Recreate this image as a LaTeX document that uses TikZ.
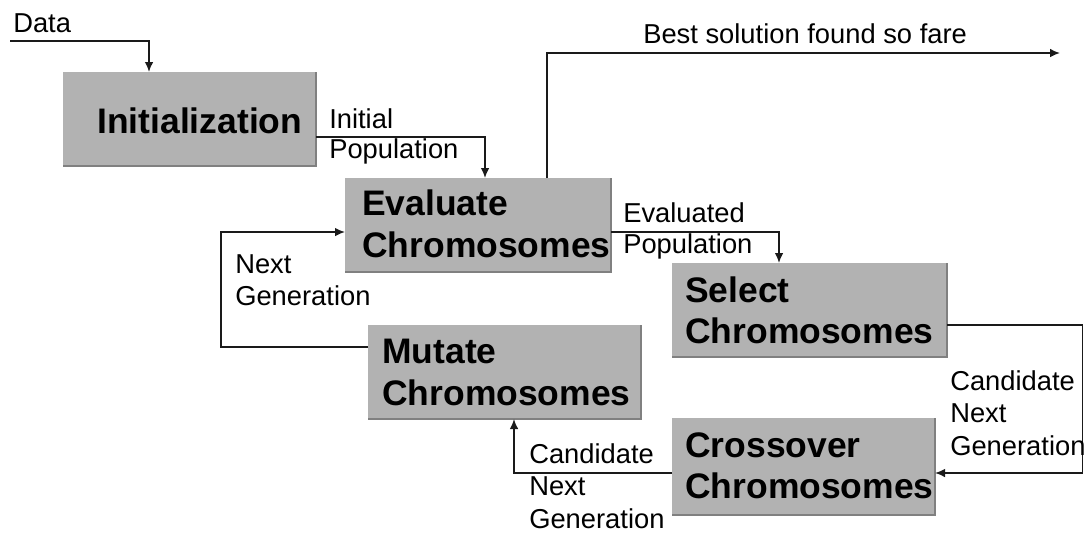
\documentclass[tikz,border=0pt]{standalone}
\usepackage{fontspec}
\setmainfont{Liberation Sans}
\usetikzlibrary{arrows.meta}
\definecolor{boxgray}{HTML}{B2B2B2}
\definecolor{edgegray}{HTML}{808080}
\definecolor{linecol}{HTML}{1A1A1A}
\begin{document}
\begin{tikzpicture}[x=0.75pt,y=-0.75pt,
  box/.style n args={2}{fill=boxgray, draw=none, inner sep=0pt, outer sep=0pt,
    minimum width=#1*0.75pt, minimum height=#2*0.75pt},
  boxedge/.style={draw=edgegray, line width=1.1pt},
  boxtext/.style={anchor=base west, inner sep=0pt, font=\fontsize{26.6pt}{30pt}\selectfont\bfseries},
  lab/.style={anchor=base west, inner sep=0pt, font=\fontsize{20.5pt}{24pt}\selectfont},
  arr/.style={draw=linecol, line width=1.2pt, -{Latex[length=7.5pt,width=6.5pt]}}]
\useasboundingbox (0,0) rectangle (1084,533);

% boxes
\node[box={253}{94}] (init)   at (189.5,119)   {};
\node[box={266}{94}] (eval)   at (478,225)     {};
\node[box={275}{94}] (select) at (809.5,310)   {};
\node[box={273}{94}] (mutate) at (504.5,372)   {};
\node[box={263}{97}] (cross)  at (803.5,466.5) {};
\foreach \b in {init,eval,select,mutate,cross}
  \draw[boxedge] (\b.north east) -- (\b.south east) -- (\b.south west);

% box texts
\node[boxtext] (tinit) at (97,133) {Initialization};
\node[boxtext] (teval1) at (362,215) {Evaluate};
\node[boxtext] (teval2) at (362,257) {Chromosomes};
\node[boxtext] (tsel1) at (685,302) {Select};
\node[boxtext] (tsel2) at (685,343) {Chromosomes};
\node[boxtext] (tmut1) at (382,363) {Mutate};
\node[boxtext] (tmut2) at (382,405) {Chromosomes};
\node[boxtext] (tcro1) at (685,457) {Crossover};
\node[boxtext] (tcro2) at (685,498) {Chromosomes};

% connector coordinates
\coordinate (d0) at (10,41);
\coordinate (d1) at (149,41);
\coordinate (c1) at (485,137);
\coordinate (b1) at (547,53);
\coordinate (bend) at (1060,53);
\coordinate (c2) at (779,232);
\coordinate (c3) at (1082.5,325);
\coordinate (c4) at (1082.5,473);
\coordinate (c5) at (514,473);
\coordinate (c6) at (221,347);
\coordinate (c7) at (221,232);

% connectors
\draw[arr] (d0) -- (d1) -- (d1 |- init.north);
\draw[arr] (c1 -| init.east) -- (c1) -- (c1 |- eval.north);
\draw[arr] (b1 |- eval.north) -- (b1) -- (bend);
\draw[arr] (c2 -| eval.east) -- (c2) -- (c2 |- select.north);
\draw[arr] (c3 -| select.east) -- (c3) -- (c4) -- (c4 -| cross.east);
\draw[arr] (c5 -| cross.west) -- (c5) -- (c5 |- mutate.south);
\draw[arr] (c6 -| mutate.west) -- (c6) -- (c7) -- (c7 -| eval.west);

% labels
\node[lab] (ldata) at (13,32) {Data};
\node[lab] (lini1) at (329,128) {Initial};
\node[lab] (lini2) at (329,158) {Population};
\node[lab] (lbest) at (643,43) {Best solution found so fare};
\node[lab] (lev1) at (623,222) {Evaluated};
\node[lab] (lev2) at (623,253) {Population};
\node[lab] (lr1) at (950,390) {Candidate};
\node[lab] (lr2) at (950,422) {Next};
\node[lab] (lr3) at (950,455) {Generation};
\node[lab] (lb1) at (529,463) {Candidate};
\node[lab] (lb2) at (529,495) {Next};
\node[lab] (lb3) at (529,528) {Generation};
\node[lab] (ln1) at (235,273) {Next};
\node[lab] (ln2) at (235,305) {Generation};
\end{tikzpicture}
\end{document}
